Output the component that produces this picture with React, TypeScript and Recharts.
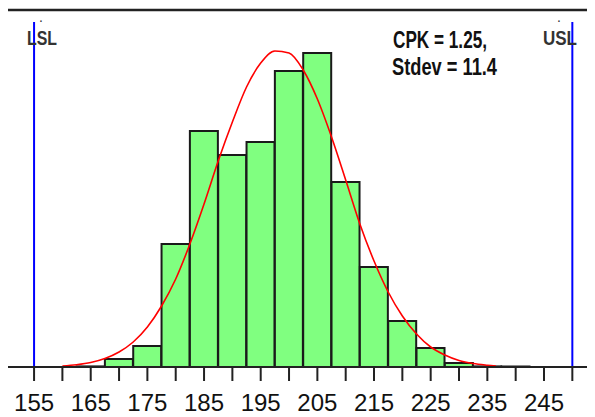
import React from "react"
import {
  ComposedChart,
  Bar,
  Line,
  XAxis,
  YAxis,
  ReferenceLine,
} from "recharts"

// histogram bins (centre of each 5-wide bin) and their heights
const binCenters = [165, 170, 175, 180, 185, 190, 195, 200, 205, 210, 215, 220, 225, 230, 235, 240]
const binCounts = [0.6, 8, 21, 123, 236, 212, 225, 296, 314, 185, 100, 46, 19, 4, 0.6, 0.6]

// fitted normal curve
const curveX = [
  160, 162.5, 165, 167.5, 170, 172.5, 175, 177.5, 180, 182.5, 185, 187.5, 190, 192.5, 195, 197.5,
  200, 202.5, 205, 207.5, 210, 212.5, 215, 217.5, 220, 222.5, 225, 227.5, 230, 232.5, 235, 236.5,
]
const curveY = [
  1, 2.3, 4.5, 8.5, 15, 25, 40, 61, 88, 123, 163, 206, 245, 280, 304, 316,
  314, 297, 268, 230, 187, 143, 106, 75, 51, 33, 20, 12, 6.5, 3.5, 1.8, 1,
]

const tickValues = [155, 160, 165, 170, 175, 180, 185, 190, 195, 200, 205, 210, 215, 220, 225, 230, 235, 240, 245, 250]
const tickLabels = ["155", "165", "175", "185", "195", "205", "215", "225", "235", "245"]

const lsl = 155
const usl = 250
const specTop = 345
const cpkText = "CPK = 1.25,"
const stdevText = "Stdev = 11.4"

const barData = binCenters.map((x, i) => ({ x, count: binCounts[i] }))
const curveData = curveX.map((x, i) => ({ x, fit: curveY[i] }))

const sans = "'Liberation Sans', Arial, sans-serif"

const XTick = ({ x, y, payload }: any) => {
  const label = String(payload.value)
  if (!tickLabels.includes(label)) return <g />
  return (
    <text x={x} y={y + 30} textAnchor="middle" fontSize={24} fontFamily={sans} fill="#111">
      {label}
    </text>
  )
}

export default function App() {
  return (
    <div style={{ position: "relative", width: 587, height: 409 }}>
      <ComposedChart
        width={587}
        height={409}
        data={barData}
        barCategoryGap={0}
        margin={{ top: 2, right: 0, bottom: 0, left: 0 }}
      >
        <XAxis
          dataKey="x"
          type="number"
          domain={[150.4, 254]}
          allowDataOverflow
          ticks={tickValues}
          interval={0}
          height={50}
          tickSize={14}
          tickMargin={0}
          tick={<XTick />}
          tickLine={{ stroke: "#222", strokeWidth: 2 }}
          axisLine={{ stroke: "#222", strokeWidth: 2 }}
        />
        <XAxis xAxisId="curve" dataKey="x" type="number" domain={[150.4, 254]} allowDataOverflow hide />
        <YAxis
          domain={[0, 357]}
          allowDataOverflow
          width={0}
          tick={false}
          tickLine={false}
          axisLine={{ stroke: "#222", strokeWidth: 2.5 }}
        />
        <ReferenceLine y={357} stroke="#222" strokeWidth={2.5} />
        <ReferenceLine segment={[{ x: lsl, y: 0 }, { x: lsl, y: specTop }]} stroke="#0000ff" strokeWidth={2} />
        <ReferenceLine segment={[{ x: usl, y: 0 }, { x: usl, y: specTop }]} stroke="#0000ff" strokeWidth={2} />
        <Bar dataKey="count" fill="#80ff80" stroke="#1a1a1a" strokeWidth={2} isAnimationActive={false} />
        <Line
          xAxisId="curve"
          data={curveData}
          dataKey="fit"
          type="monotone"
          stroke="#ff0000"
          strokeWidth={1.6}
          dot={false}
          isAnimationActive={false}
        />
      </ComposedChart>
      <svg
        width={587}
        height={409}
        style={{ position: "absolute", left: 0, top: 0, pointerEvents: "none" }}
      >
        <text x={33} y={14} textAnchor="middle" fontSize={14} fontFamily={sans} fill="#333">.</text>
        <text x={19} y={37} fontSize={21} fontWeight="bold" fontFamily={sans} fill="#333" textLength={30} lengthAdjust="spacingAndGlyphs">LSL</text>
        <text x={551} y={14} textAnchor="middle" fontSize={14} fontFamily={sans} fill="#333">.</text>
        <text x={535} y={37} fontSize={21} fontWeight="bold" fontFamily={sans} fill="#333" textLength={34} lengthAdjust="spacingAndGlyphs">USL</text>
        <text x={385} y={40} fontSize={23.5} fontWeight="bold" fontFamily={sans} fill="#111" textLength={94} lengthAdjust="spacingAndGlyphs">{cpkText}</text>
        <text x={384} y={67} fontSize={23.5} fontWeight="bold" fontFamily={sans} fill="#111" textLength={105} lengthAdjust="spacingAndGlyphs">{stdevText}</text>
      </svg>
    </div>
  )
}
